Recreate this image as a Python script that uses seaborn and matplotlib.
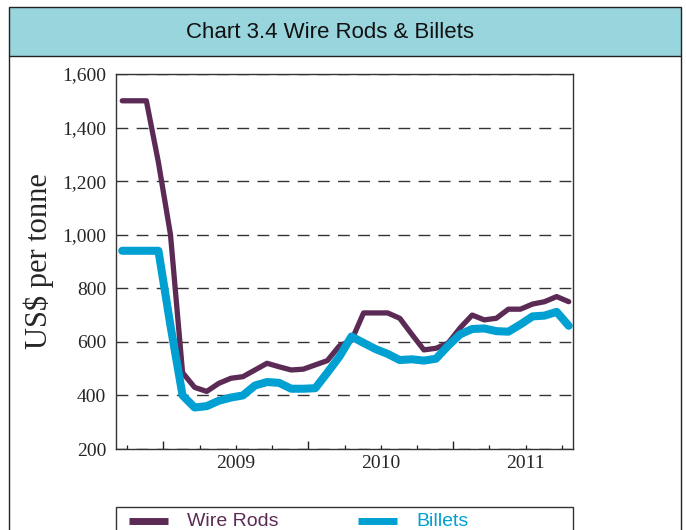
import pandas as pd
import matplotlib
matplotlib.use("Agg")
import matplotlib.pyplot as plt
import seaborn as sns
from matplotlib.patches import Rectangle
from matplotlib.lines import Line2D
from matplotlib.ticker import FixedLocator, FuncFormatter

# monthly prices, Mar 2008 - Apr 2011 (US$ per tonne)
meses = pd.period_range("2008-03", "2011-04", freq="M")

wire_rods = [1500, 1500, 1500, 1270, 1000, 485, 430, 415, 445, 464,
             470, 495, 520, 507, 495, 498, 514, 530, 585, 605,
             708, 708, 708, 688, 628, 570, 576, 595, 652, 700,
             682, 688, 722, 722, 741, 750, 769, 750]
billets = [940, 940, 940, 940, 660, 400, 355, 360, 380, 392,
           400, 437, 450, 447, 425, 425, 427, 485, 545, 620,
           596, 573, 555, 532, 535, 530, 537, 585, 628, 648,
           650, 640, 638, 665, 695, 698, 712, 660]

anos_rotulo = [2009, 2010, 2011]
titulo = "Chart 3.4 Wire Rods & Billets"
rotulo_y = "US$ per tonne"

cor_wire = "#5B2B55"
cor_billets = "#00A0D2"
cor_faixa = "#98D5DD"

df = pd.DataFrame({
    "x": [m.year + (m.month - 1 + 0.58) / 12 for m in meses],
    "Wire Rods": wire_rods,
    "Billets": billets,
})

sns.set_style("white")
plt.rcParams["font.family"] = ["Liberation Serif", "DejaVu Serif"]

W, H = 686, 530
fig = plt.figure(figsize=(W / 100, H / 100), dpi=100)
ax = fig.add_axes([116 / W, 1 - 449 / H, 457 / W, 375 / H])

sns.lineplot(data=df, x="x", y="Wire Rods", color=cor_wire, linewidth=3.8, ax=ax)
sns.lineplot(data=df, x="x", y="Billets", color=cor_billets, linewidth=5.8, ax=ax)

ax.set_xlim(2008.172, 2011.328)
ax.set_ylim(200, 1600)
ax.set_yticks(range(200, 1601, 200))
ax.yaxis.set_major_formatter(FuncFormatter(lambda v, p: f"{int(v):,}"))
ax.tick_params(axis="y", length=0, pad=7, labelsize=14)

# long ticks mid-year, short quarterly ticks, year labels at January
ax.xaxis.set_major_locator(FixedLocator([2008.5, 2009.5, 2010.5]))
ax.xaxis.set_major_formatter(FuncFormatter(lambda v, p: ""))
trimestres = [2008.25, 2008.75, 2009.0, 2009.25, 2009.75, 2010.0,
              2010.25, 2010.75, 2011.0, 2011.25]
ax.xaxis.set_minor_locator(FixedLocator(trimestres))
ax.xaxis.set_minor_formatter(FuncFormatter(
    lambda v, p: str(int(round(v))) if int(round(v)) in anos_rotulo and abs(v - round(v)) < 0.01 else ""))
ax.tick_params(axis="x", which="major", direction="in", length=5.5, width=1, color="#222222", bottom=True)
ax.tick_params(axis="x", which="minor", direction="in", length=3, width=0.9, color="#222222",
               bottom=True, labelsize=14, pad=4)

ax.set_xlabel("")
ax.set_ylabel(rotulo_y, fontsize=22, labelpad=6)

ax.grid(axis="y", color="#333333", linewidth=1.0, linestyle=(0, (8.5, 6)))
ax.grid(axis="x", visible=False)
ax.set_axisbelow(True)
for s in ax.spines.values():
    s.set_color("#333333")
    s.set_linewidth(1.0)

# header band and outer frame
fig.patches.append(Rectangle((9 / W, 1 - 56 / H), 672 / W, 49 / H, transform=fig.transFigure,
                             facecolor=cor_faixa, edgecolor="#222222", linewidth=1.0))
fig.text(330 / W, 1 - 33 / H, titulo, ha="center", va="center", fontsize=16,
         family=["Liberation Sans", "DejaVu Sans"], color="#111111")
fig.add_artist(Line2D([9 / W, 9 / W], [0, 1 - 56 / H], transform=fig.transFigure, color="#222222", lw=1.0))
fig.add_artist(Line2D([681 / W, 681 / W], [0, 1 - 56 / H], transform=fig.transFigure, color="#222222", lw=1.0))

# legend box (cut at the bottom as in the original)
fig.patches.append(Rectangle((116 / W, -0.05), 457 / W, 0.05 + 1 - 507 / H, transform=fig.transFigure,
                             facecolor="white", edgecolor="#333333", linewidth=1.0))
y_leg = 1 - 521 / H
for nome, cor, x0 in [("Wire Rods", cor_wire, 129), ("Billets", cor_billets, 358)]:
    fig.add_artist(Line2D([x0 / W, (x0 + 39) / W], [y_leg, y_leg], transform=fig.transFigure,
                          color=cor, lw=5, solid_capstyle="butt"))
    fig.text((x0 + 58) / W, y_leg, nome, ha="left", va="center", fontsize=14,
             family=["Liberation Sans", "DejaVu Sans"], color=cor)

fig.savefig("out.png", dpi=100)
